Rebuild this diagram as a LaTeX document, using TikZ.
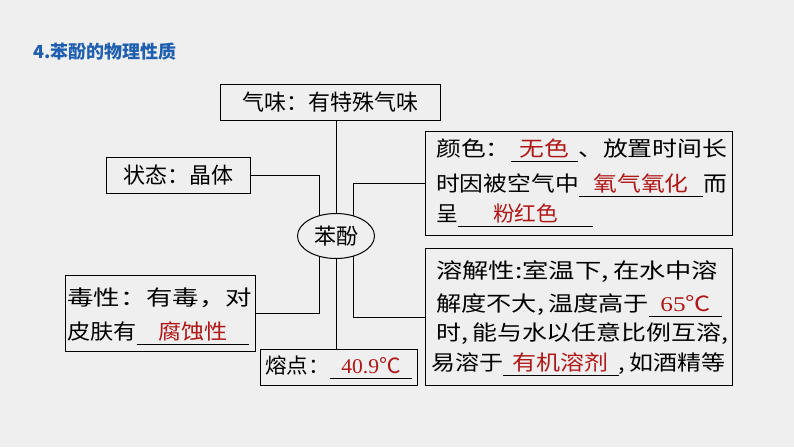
\documentclass[tikz,border=0pt]{standalone}
\usepackage{fontspec}
\newfontfamily\cjk{Noto Sans CJK SC}
\newfontfamily\tms{Liberation Serif}
\usetikzlibrary{shapes.geometric}
\definecolor{bg}{HTML}{EFEFEF}
\definecolor{ans}{HTML}{B01818}
\definecolor{ttl}{HTML}{1F5FAF}
\newcommand{\blank}[2]{\makebox[#1][c]{\textcolor{ans}{#2}}\llap{\rule[-5pt]{#1}{0.8pt}}}
\newcommand{\fitline}[2]{\resizebox{#1}{\height}{#2}}

\begin{document}
\begin{tikzpicture}[x=1pt, y=-1pt,
        box/.style={draw, line width=1pt, anchor=north west, inner sep=0pt},
        txt/.style={anchor=west, inner sep=0pt, font={\cjk\fontsize{21}{24}\selectfont}},
        link/.style={line width=1pt},
    ]
    \fill[bg] (0,0) rectangle (794,447);
    \useasboundingbox (0,0) rectangle (794,447);
    % title
    \node[anchor=west, inner sep=0pt, text=ttl, font={\cjk\bfseries\fontsize{18}{20}\selectfont}]
        (title) at (33,52) {4.苯酚的物理性质};

    % boxes
    \node[box, minimum width=220, minimum height=36, font={\cjk\fontsize{22}{24}\selectfont}]
        (smell) at (220,84) {气味：有特殊气味};
    \node[box, minimum width=144, minimum height=36, font={\cjk\fontsize{22}{24}\selectfont}]
        (state) at (106,157) {状态：晶体};
    \node[box, minimum width=190, minimum height=76] (toxic) at (65,275) {};
    \node[box, minimum width=157, minimum height=36] (melt) at (260,349) {};
    \node[box, minimum width=307, minimum height=104] (colour) at (425,131) {};
    \node[box, minimum width=307, minimum height=137] (solub) at (425,248) {};

    % connectors
    \coordinate (c) at (336,236);
    \coordinate (cl) at (319,236);
    \coordinate (cr) at (353,236);
    \draw[link] (smell.south -| c) -- (melt.north -| c);
    \draw[link] (state.east) -| (cl);
    \draw[link] (toxic.east) -| (cl);
    \draw[link] (colour.west) -- ++(-72,0) -- (cr);
    \draw[link] (solub.west) -- ++(-72,0) -- (cr);
    \node[draw, ellipse, line width=1pt, fill=bg, minimum width=77, minimum height=45,
        inner sep=0pt, font={\cjk\fontsize{22}{24}\selectfont}] (phenol) at (c) {苯酚};

    % toxicity
    \node[txt] (tx1) at (67,298) {\fitline{185pt}{毒性：有毒，对}};
    \node[txt] (tx2) at (67,333) {\fitline{182pt}{皮肤有\blank{102pt}{腐蚀性}}};
    % melting point
    \node[txt] (mp) at (265,367) {\fitline{147pt}{熔点：\blank{80pt}{{\tms 40.9}℃}}};
    % colour
    \node[txt] (co1) at (436,150) {\fitline{291pt}{颜色：\blank{57pt}{无色}、放置时间长}};
    \node[txt] (co2) at (436,185) {\fitline{291pt}{时因被空气中\blank{110pt}{氧气氧化}而}};
    \node[txt] (co3) at (436,215) {\fitline{157pt}{呈\blank{131pt}{粉红色}}};
    % solubility
    \node[txt] (so1) at (436,272) {\fitline{282pt}{溶解性:室温下,\,在水中溶}};
    \node[txt] (so2) at (436,305) {\fitline{286pt}{解度不大,\,温度高于\blank{61pt}{{\tms 65}℃}}};
    \node[txt] (so3) at (436,334) {\fitline{292pt}{时,\,能与水以任意比例互溶,}};
    \node[txt] (so4) at (431,364) {\fitline{294pt}{易溶于\blank{101pt}{有机溶剂},\,如酒精等}};
\end{tikzpicture}
\end{document}
